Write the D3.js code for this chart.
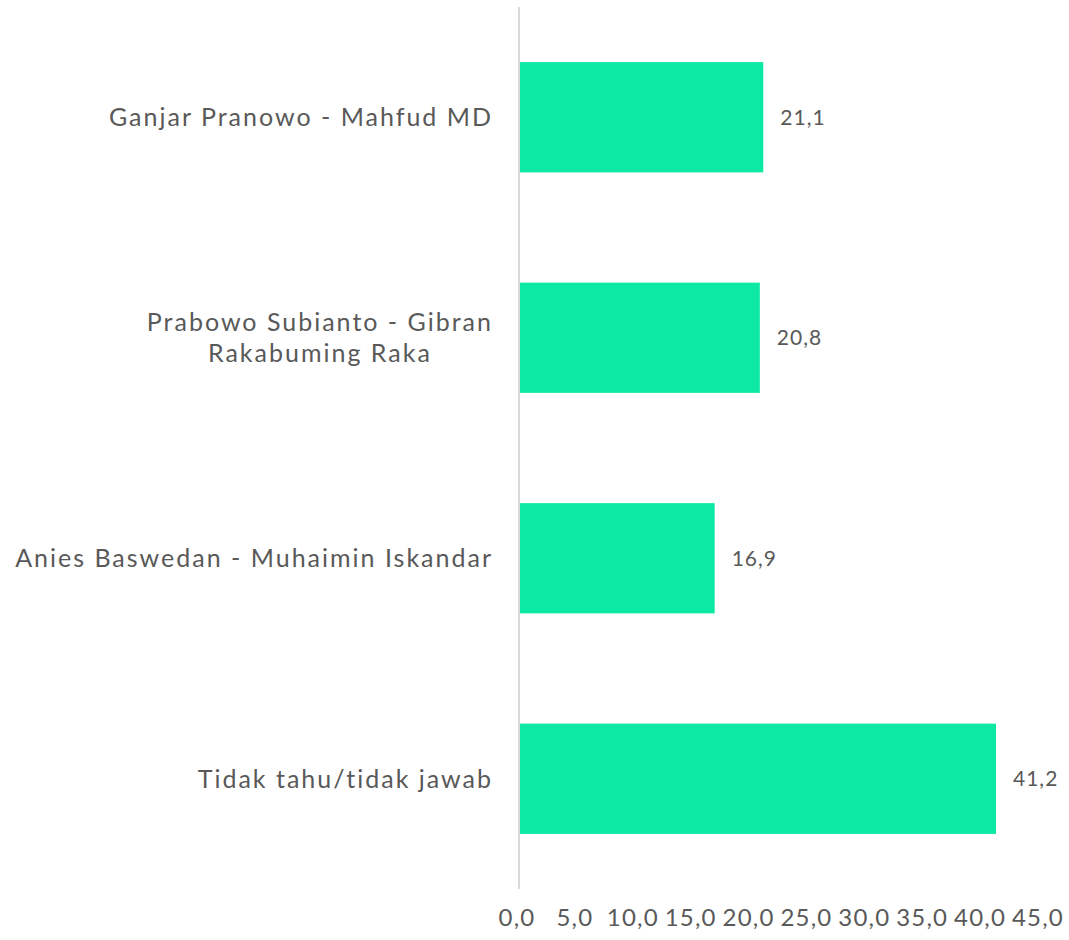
<!DOCTYPE html>
<html>
<head>
<meta charset="utf-8">
<script src="https://cdn.jsdelivr.net/npm/d3@7"></script>
<style>
  html, body { margin: 0; padding: 0; background: #ffffff; }
  svg { display: block; }
  text { font-family: "Lato", "Open Sans", sans-serif; fill: #595959; }
</style>
</head>
<body>
<div id="chart"></div>
<script>
// Survey of presidential tickets (percent)
const categories = [
  ["Ganjar Pranowo - Mahfud MD"],
  ["Prabowo Subianto - Gibran", "Rakabuming Raka"],
  ["Anies Baswedan - Muhaimin Iskandar"],
  ["Tidak tahu/tidak jawab"]
];
const values = [21.1, 20.8, 16.9, 41.2];
const tickValues = [0, 5, 10, 15, 20, 25, 30, 35, 40, 45];

const width = 1069, height = 940;
const axisX = 519, xMax = 1040;
const yTop = 7, yBottom = 889;

const fmt = v => v.toFixed(1).replace(".", ",");

const svg = d3.select("#chart").append("svg")
  .attr("width", width).attr("height", height);

const x = d3.scaleLinear().domain([0, 45]).range([axisX, xMax]);
const y = d3.scaleBand()
  .domain(d3.range(categories.length))
  .range([yTop, yBottom])
  .paddingInner(0.5)
  .paddingOuter(0.25);

// bars
svg.append("g").selectAll("rect")
  .data(values)
  .join("rect")
  .attr("x", x(0))
  .attr("y", (d, i) => y(i))
  .attr("width", d => x(d) - x(0))
  .attr("height", y.bandwidth())
  .attr("fill", "#0BE9A5");

// vertical category axis line
svg.append("line")
  .attr("x1", axisX).attr("x2", axisX)
  .attr("y1", yTop).attr("y2", yBottom)
  .attr("stroke", "#d9d9d9").attr("stroke-width", 2);

// value labels
svg.append("g").selectAll("text")
  .data(values)
  .join("text")
  .attr("x", d => x(d) + 17)
  .attr("y", (d, i) => y(i) + y.bandwidth() / 2)
  .attr("dy", "0.35em")
  .attr("font-size", 21)
  .attr("letter-spacing", 1)
  .text(d => fmt(d));

// category labels, right-aligned block, lines centred within it
const labelRight = 493;
const lineH = 31;
const catG = svg.append("g");
categories.forEach((lines, i) => {
  const cy = y(i) + y.bandwidth() / 2;
  const t = catG.append("text")
    .attr("font-size", 25)
    .attr("letter-spacing", 2);
  lines.forEach((ln, j) => {
    t.append("tspan")
      .attr("y", cy + (j - (lines.length - 1) / 2) * lineH)
      .attr("dy", "0.35em")
      .text(ln);
  });
  const spans = t.selectAll("tspan").nodes();
  const maxW = d3.max(spans, s => s.getComputedTextLength());
  t.attr("text-anchor", "middle");
  t.selectAll("tspan").attr("x", labelRight - maxW / 2);
});

// value axis tick labels
svg.append("g").selectAll("text")
  .data(tickValues)
  .join("text")
  .attr("x", d => x(d) - 2)
  .attr("y", 918)
  .attr("dy", "0.35em")
  .attr("text-anchor", "middle")
  .attr("font-size", 24)
  .attr("letter-spacing", 1.2)
  .text(d => fmt(d));
</script>
</body>
</html>
